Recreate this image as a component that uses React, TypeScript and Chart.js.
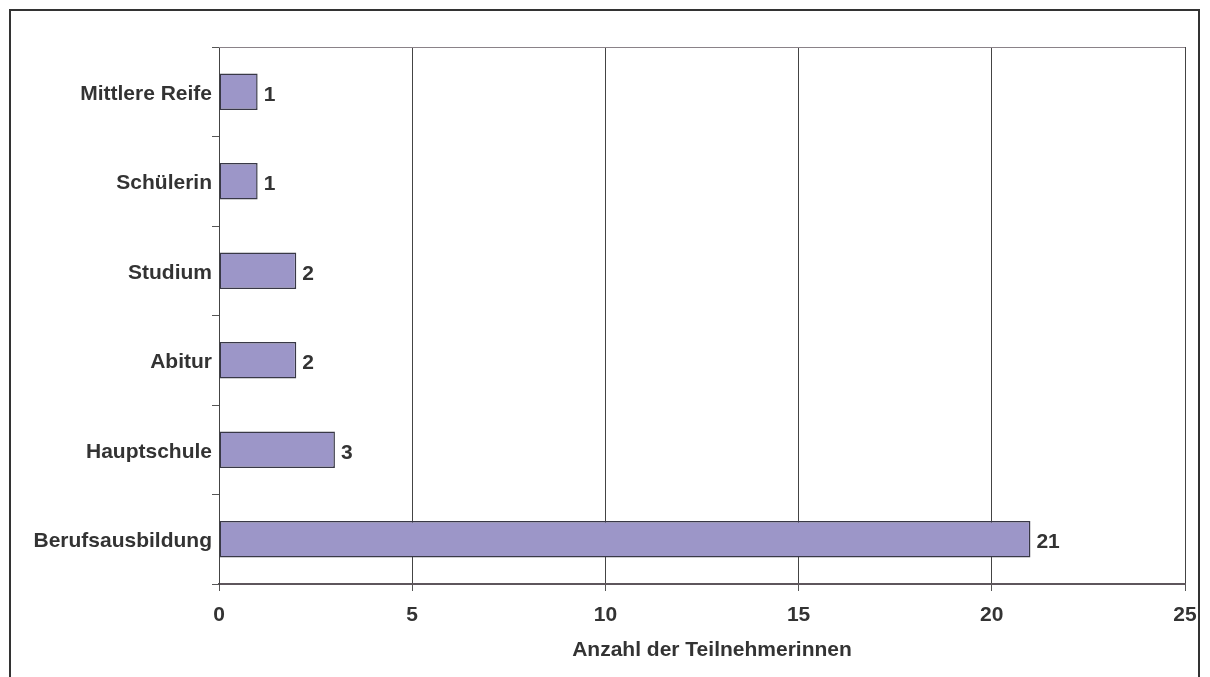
import React, { useEffect, useRef } from "react";
import { Chart, registerables } from "chart.js";

Chart.register(...registerables);

// Highest school / vocational qualification of the participants
const categories: string[] = [
  "Mittlere Reife",
  "Schülerin",
  "Studium",
  "Abitur",
  "Hauptschule",
  "Berufsausbildung",
];
const counts: number[] = [1, 1, 2, 2, 3, 21];
const xTicks: number[] = [0, 5, 10, 15, 20, 25];
const axisTitle = "Anzahl der Teilnehmerinnen";

const FONT = "'Liberation Sans', Arial, Helvetica, sans-serif";
const TEXT = "#333333";

// Frame round the chart, the top edge of the plot area, value labels and axis title
const decorations = {
  id: "decorations",
  afterDatasetsDraw(chart: any) {
    const { ctx, chartArea } = chart;
    ctx.save();
    // plot area top line
    ctx.strokeStyle = "#8a8288";
    ctx.lineWidth = 1;
    ctx.beginPath();
    ctx.moveTo(chartArea.left, chartArea.top + 0.5);
    ctx.lineTo(chartArea.right, chartArea.top + 0.5);
    ctx.stroke();

    // value labels at the bar ends
    ctx.fillStyle = TEXT;
    ctx.font = `bold 21px ${FONT}`;
    ctx.textAlign = "left";
    ctx.textBaseline = "middle";
    const meta = chart.getDatasetMeta(0);
    meta.data.forEach((bar: any, i: number) => {
      const v = chart.data.datasets[0].data[i];
      ctx.fillText(String(v), bar.x + 6, bar.y + 3);
    });
    ctx.restore();
  },
  afterDraw(chart: any) {
    const { ctx, chartArea } = chart;
    ctx.save();
    // axis title
    ctx.fillStyle = TEXT;
    ctx.font = `bold 21px ${FONT}`;
    ctx.textAlign = "center";
    ctx.textBaseline = "middle";
    ctx.fillText(axisTitle, (chartArea.left + chartArea.right) / 2 + 10, 650);

    // outer frame (left, top, right)
    ctx.strokeStyle = "#333333";
    ctx.lineWidth = 2;
    ctx.beginPath();
    ctx.moveTo(10, 700);
    ctx.lineTo(10, 10);
    ctx.lineTo(1199, 10);
    ctx.lineTo(1199, 700);
    ctx.stroke();
    ctx.restore();
  },
};

export default function App() {
  const canvasRef = useRef<HTMLCanvasElement | null>(null);

  useEffect(() => {
    if (!canvasRef.current) return;
    const chart = new Chart(canvasRef.current, {
      type: "bar",
      data: {
        labels: categories,
        datasets: [
          {
            data: counts,
            backgroundColor: "#9c96c8",
            borderColor: "#383846",
            borderWidth: 1.5,
            borderSkipped: false,
            categoryPercentage: 1,
            barPercentage: 0.41,
          },
        ],
      },
      options: {
        indexAxis: "y",
        responsive: false,
        animation: false,
        layout: { padding: { top: 47, right: 25, left: 0, bottom: 0 } },
        plugins: {
          legend: { display: false },
          tooltip: { enabled: false },
          title: { display: false },
        },
        scales: {
          x: {
            type: "linear",
            min: xTicks[0],
            max: xTicks[xTicks.length - 1],
            afterBuildTicks: (scale: any) => {
              scale.ticks = xTicks.map((v) => ({ value: v }));
            },
            afterFit: (scale: any) => {
              scale.height = 93;
            },
            grid: {
              color: "#444444",
              lineWidth: 1,
              tickLength: 7,
              tickColor: "#555555",
            },
            border: { color: "#5e565c", width: 2 },
            ticks: {
              color: TEXT,
              font: { family: FONT, size: 21, weight: "bold" },
              padding: 12,
              maxRotation: 0,
            },
          },
          y: {
            afterFit: (scale: any) => {
              scale.width = 219;
            },
            grid: {
              offset: true,
              drawOnChartArea: false,
              tickLength: 7,
              tickColor: "#555555",
            },
            border: { color: "#444444", width: 1 },
            ticks: {
              color: TEXT,
              font: { family: FONT, size: 21, weight: "bold" },
              padding: 0,
              labelOffset: 2,
            },
          },
        },
      },
      plugins: [decorations],
    });
    return () => chart.destroy();
  }, []);

  return (
    <div style={{ position: "absolute", left: 0, top: 0, width: 1210, height: 677, background: "#ffffff" }}>
      <canvas ref={canvasRef} width={1210} height={677} style={{ display: "block" }} />
    </div>
  );
}
